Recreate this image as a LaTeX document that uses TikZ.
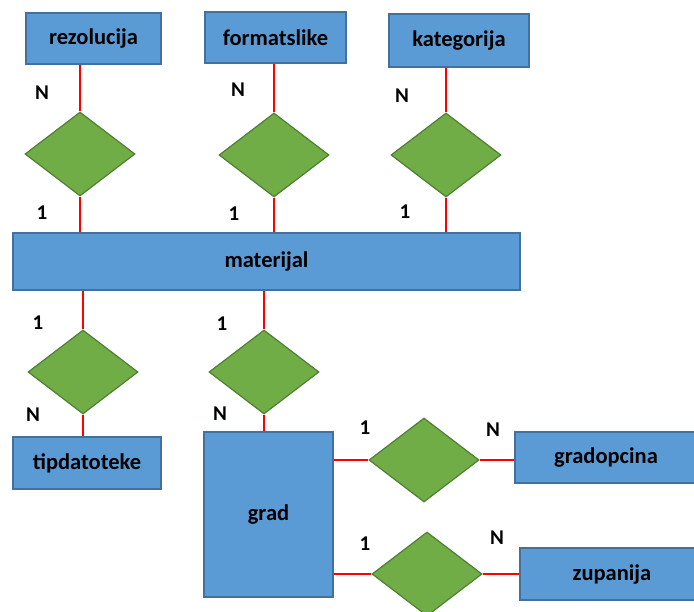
\documentclass[tikz,border=0pt]{standalone}
\usepackage{fontspec}
\setmainfont{Carlito}
\usetikzlibrary{shapes.geometric}
\definecolor{boxblue}{HTML}{5B9BD5}
\definecolor{boxedge}{HTML}{41719C}
\definecolor{relgreen}{HTML}{70AD47}
\definecolor{reledge}{HTML}{507E32}

\begin{document}
\begin{tikzpicture}[x=1pt,y=-1pt]
            \tikzstyle{entity}=[draw=boxedge,fill=boxblue,line width=1.5pt,rectangle,inner sep=0pt,font=\bfseries\fontsize{22.5}{26}\selectfont]
            \tikzstyle{relation}=[draw=reledge,fill=relgreen,line width=1.2pt,diamond,minimum width=110pt,minimum height=84pt,inner sep=0pt]
            \tikzstyle{card}=[inner sep=0pt,font=\bfseries\fontsize{21}{23}\selectfont]
            \tikzstyle{link}=[red,line width=1.5pt]

            \useasboundingbox (0,0) rectangle (694,611);
            \clip (0,0) rectangle (694,611);

            \node[entity,minimum width=135pt,minimum height=51pt] (rez) at (93.5,38.5) {rezolucija};
            \node[entity,minimum width=141pt,minimum height=51pt] (fmt) at (275.5,37.5) {formatslike};
            \node[entity,minimum width=140pt,minimum height=53pt] (kat) at (459,40.5) {kategorija};
            \node[entity,minimum width=507pt,minimum height=57pt] (mat) at (266.5,261.5) {materijal};
            \node[entity,minimum width=148pt,minimum height=52pt] (tip) at (87,463) {tipdatoteke};
            \node[entity,minimum width=129pt,minimum height=165pt] (grad) at (268.5,514.5) {grad};
            \node[entity,minimum width=182pt,minimum height=51pt] (gop) at (606,457.5) {gradopcina};
            \node[entity,minimum width=184pt,minimum height=52pt] (zup) at (612,574) {zupanija};

            \node[relation] (r1) at (80,154) {};
            \node[relation] (r2) at (274,155) {};
            \node[relation] (r3) at (446,155) {};
            \node[relation] (r4) at (83,372) {};
            \node[relation] (r5) at (264,372) {};
            \node[relation] (r6) at (424,460) {};
            \node[relation] (r7) at (427,574) {};

            \draw[link] (r1.north) -- (r1.north |- rez.south);
            \draw[link] (r1.south) -- (r1.south |- mat.north);
            \draw[link] (r2.north) -- (r2.north |- fmt.south);
            \draw[link] (r2.south) -- (r2.south |- mat.north);
            \draw[link] (r3.north) -- (r3.north |- kat.south);
            \draw[link] (r3.south) -- (r3.south |- mat.north);
            \draw[link] (r4.north) -- (r4.north |- mat.south);
            \draw[link] (r4.south) -- (r4.south |- tip.north);
            \draw[link] (r5.north) -- (r5.north |- mat.south);
            \draw[link] (r5.south) -- (r5.south |- grad.north);
            \draw[link] (r6.west) -- (r6.west -| grad.east);
            \draw[link] (r6.east) -- (r6.east -| gop.west);
            \draw[link] (r7.west) -- (r7.west -| grad.east);
            \draw[link] (r7.east) -- (r7.east -| zup.west);

            % cardinalities
            \node[card] (c1n) at (42,93) {N};
            \node[card] (c11) at (42,213) {1};
            \node[card] (c2n) at (238,90) {N};
            \node[card] (c21) at (234,214) {1};
            \node[card] (c3n) at (402,96) {N};
            \node[card] (c31) at (405,212) {1};
            \node[card] (c41) at (38,323) {1};
            \node[card] (c4n) at (33,415) {N};
            \node[card] (c51) at (222,324) {1};
            \node[card] (c5n) at (220,414) {N};
            \node[card] (c61) at (365,428) {1};
            \node[card] (c6n) at (493,430) {N};
            \node[card] (c71) at (365,544) {1};
            \node[card] (c7n) at (497,538) {N};
        \end{tikzpicture}
\end{document}
